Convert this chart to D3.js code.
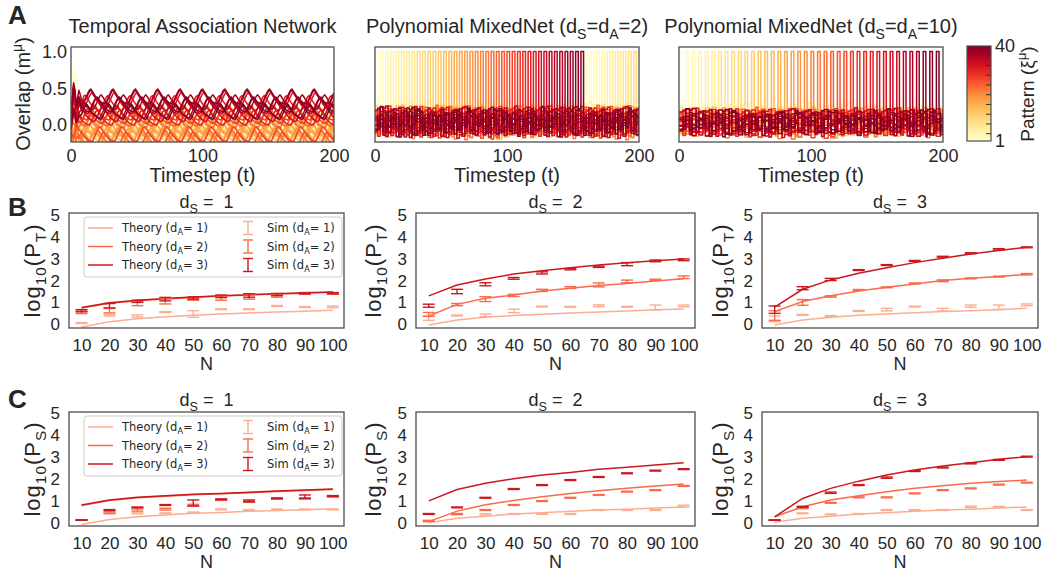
<!DOCTYPE html>
<html>
<head>
<meta charset="utf-8">
<script src="https://cdn.jsdelivr.net/npm/d3@7"></script>
<style>
  body { margin: 0; background: #fff; }
  text { font-family: "Liberation Sans", Arial, Helvetica, sans-serif; fill: #262626; }
  .legend text { font-family: "DejaVu Sans", sans-serif; }
</style>
</head>
<body>
<script>
// ---------- data: panel A (overlap traces) ----------
const timesteps = d3.range(0, 201);
const patternIds = d3.range(1, 41);
const xTicksA = [0, 100, 200];
const yTicksA = [0.0, 0.5, 1.0];

// temporal association network: level each pattern settles to, its oscillation phase,
// one period of the oscillation, and the first few steps
const tanLevel = [0.30, 0.24, 0.18, 0.13, 0.08, 0.04, 0.00, -0.04,
                  -0.07, -0.10, -0.13, -0.16, -0.19, -0.11, -0.06, -0.01,
                  0.03, -0.03, -0.08, -0.14, -0.21, -0.17, 0.06, 0.09,
                  -0.19, -0.12, 0.12, 0.17, 0.22, 0.10, 0.30, 0.34,
                  0.15, 0.37, 0.26, 0.20, 0.31, 0.39, 0.28, 0.18];
const tanPhase = [0, 9, 4, 13, 2, 11, 6, 15, 1, 10, 5, 14, 3, 12, 7, 16, 8, 0, 9, 4,
                  13, 2, 11, 6, 15, 1, 10, 5, 14, 3, 12, 7, 16, 8, 4, 12, 0, 8, 3, 11];
const tanWave = [-1.0, -0.7, -0.3, 0.1, 0.5, 0.85, 1.0, 0.75, 0.45, 0.15, -0.1, -0.3, -0.5, -0.65, -0.8, -0.9, -0.98];
const tanAmp = 0.1;
const tanWarmup = [0.2, 0.9, 1.5, 1.3, 0.7, 0.9, 1.2, 1.1, 0.95, 1.0, 1.05, 1.0];
const tanCue = [1.0, 0.55, 0.62, 0.75, 0.6, 0.45, 0.4, 0.42, 0.36, 0.33, 0.31, 0.30];

// polynomial MixedNet: timesteps at which each pattern is recalled
const mix2Onsets = [[0, 160], [4, 164], [8, 168], [12, 172], [16, 176], [20, 180], [24, 184], [28, 188], [32, 192], [36, 196],
                    [40], [44], [48], [52], [56], [60], [64], [68], [72], [76],
                    [80], [84], [88], [92], [96], [100], [104], [108], [112], [116],
                    [120], [124], [128], [132], [136], [140], [144], [148], [152], [156]];
const mix10Onsets = [[0], [5], [10], [15], [20], [25], [30], [35], [40], [45],
                     [50], [55], [60], [65], [70], [75], [80], [85], [90], [95],
                     [100], [105], [110], [115], [120], [125], [130], [135], [140], [145],
                     [150], [155], [160], [165], [170], [175], [180], [185], [190], [195]];
const recallLength = 2;
// crosstalk overlaps of the patterns that are not recalled
const crosstalk = [0.2, -0.5, 0.8, -0.1, 0.4, -0.9, 0.1, 0.6, -0.3, 0.9,
                   -0.7, 0.0, 0.5, -0.4, 0.3, -0.8, 0.7, -0.2, 0.1, -0.6,
                   0.95, -0.35, 0.25, -1.0, 0.45, 0.05, -0.55, 0.65, -0.15, 0.85,
                   -0.75, 0.35, -0.45, 0.15, 0.55, -0.25, 0.75, -0.85, 0.0, 0.6,
                   -0.65, 0.3, -0.05, 0.9, -0.5, 0.2, -0.9, 0.5, -0.3, 0.7,
                   -0.1, 0.4, -0.7, 0.8, -0.4, 0.1, -0.95, 0.65, -0.2, 0.3, -0.6];
const crosstalkBias = [0.12, 0.10, 0.08, 0.05, 0.10, 0.02, 0.06, -0.02, 0.04, 0.00,
                       0.03, -0.03, 0.05, 0.01, -0.05, 0.02, 0.00, -0.04, 0.03, -0.02,
                       0.01, -0.06, 0.04, -0.01, 0.02, -0.05, 0.00, 0.03, -0.03, 0.01,
                       -0.02, 0.02, -0.04, 0.00, 0.03, -0.02, 0.01, -0.03, 0.02, 0.00];

const cbTicks = [1, 40];
const cbMinorTicks = [4, 8, 12, 16, 20, 24, 28, 32, 36];

// ---------- data: panels B and C (capacity vs N) ----------
const nValues = [10, 20, 30, 40, 50, 60, 70, 80, 90, 100];
const dAValues = [1, 2, 3];
const dSValues = [1, 2, 3];
const yTicksLower = [0, 1, 2, 3, 4, 5];

// log10(P_T): [dS][dA][N]
const ptTheory = [
  [[-0.12, 0.12, 0.25, 0.34, 0.41, 0.47, 0.52, 0.56, 0.60, 0.64],
   [0.74, 0.96, 1.08, 1.16, 1.23, 1.29, 1.34, 1.38, 1.42, 1.46],
   [0.77, 0.98, 1.10, 1.18, 1.25, 1.30, 1.35, 1.40, 1.44, 1.48]],
  [[-0.03, 0.20, 0.32, 0.40, 0.46, 0.52, 0.56, 0.61, 0.66, 0.70],
   [0.38, 0.91, 1.19, 1.34, 1.52, 1.65, 1.77, 1.87, 1.98, 2.08],
   [1.30, 1.80, 2.07, 2.30, 2.45, 2.59, 2.71, 2.82, 2.91, 2.99]],
  [[-0.03, 0.20, 0.32, 0.41, 0.47, 0.53, 0.58, 0.62, 0.67, 0.73],
   [0.58, 1.04, 1.30, 1.52, 1.69, 1.84, 2.00, 2.10, 2.18, 2.29],
   [0.78, 1.60, 2.03, 2.33, 2.59, 2.82, 3.02, 3.22, 3.37, 3.52]]
];
const ptSimMean = [
  [[0.06, 0.41, 0.38, 0.56, 0.47, 0.69, 0.69, 0.84, 0.79, 0.80],
   [0.55, 0.62, 0.95, 1.05, 1.15, 1.20, 1.25, 1.30, 1.40, 1.40],
   [0.62, 0.85, 1.05, 1.15, 1.20, 1.28, 1.32, 1.36, 1.42, 1.42]],
  [[0.28, 0.40, 0.41, 0.61, 0.81, 0.80, 0.85, 0.80, 0.77, 0.84],
   [0.45, 0.90, 1.15, 1.32, 1.55, 1.68, 1.80, 1.96, 2.03, 2.15],
   [0.85, 1.50, 1.83, 2.10, 2.35, 2.52, 2.63, 2.75, 2.90, 2.95]],
  [[0.25, 0.43, 0.38, 0.61, 0.67, 0.81, 0.67, 0.83, 0.78, 0.89],
   [0.40, 1.00, 1.27, 1.57, 1.69, 1.87, 1.99, 2.10, 2.18, 2.29],
   [0.67, 1.65, 2.05, 2.48, 2.71, 2.90, 3.09, 3.25, 3.43, 3.52]]
];
const ptSimErr = [
  [[0.02, 0.03, 0.05, 0.02, 0.15, 0.02, 0.02, 0.02, 0.02, 0.04],
   [0.06, 0.10, 0.10, 0.12, 0.05, 0.10, 0.10, 0.06, 0.03, 0.03],
   [0.05, 0.10, 0.05, 0.08, 0.05, 0.06, 0.08, 0.05, 0.03, 0.03]],
  [[0.10, 0.02, 0.06, 0.08, 0.02, 0.02, 0.04, 0.02, 0.11, 0.04],
   [0.09, 0.05, 0.11, 0.05, 0.05, 0.04, 0.09, 0.06, 0.03, 0.06],
   [0.07, 0.10, 0.07, 0.04, 0.05, 0.03, 0.03, 0.07, 0.04, 0.04]],
  [[0.13, 0.02, 0.02, 0.02, 0.06, 0.02, 0.06, 0.05, 0.10, 0.04],
   [0.22, 0.13, 0.03, 0.02, 0.02, 0.02, 0.04, 0.02, 0.02, 0.03],
   [0.17, 0.07, 0.05, 0.02, 0.02, 0.02, 0.02, 0.02, 0.03, 0.02]]
];

// log10(P_S): [dS][dA][N]
const psTheory = [
  [[-0.08, 0.15, 0.27, 0.35, 0.43, 0.47, 0.52, 0.56, 0.59, 0.64],
   [0.79, 1.02, 1.14, 1.21, 1.28, 1.32, 1.37, 1.43, 1.47, 1.52],
   [0.81, 1.04, 1.16, 1.23, 1.30, 1.34, 1.39, 1.45, 1.49, 1.54]],
  [[0.00, 0.20, 0.30, 0.40, 0.46, 0.52, 0.58, 0.62, 0.67, 0.72],
   [0.05, 0.53, 0.82, 1.02, 1.19, 1.34, 1.46, 1.57, 1.68, 1.77],
   [1.00, 1.52, 1.80, 2.01, 2.18, 2.30, 2.44, 2.53, 2.64, 2.74]],
  [[0.02, 0.20, 0.30, 0.40, 0.46, 0.52, 0.58, 0.62, 0.67, 0.72],
   [0.27, 0.73, 1.04, 1.23, 1.42, 1.57, 1.69, 1.80, 1.88, 1.95],
   [0.27, 1.11, 1.57, 1.90, 2.18, 2.41, 2.59, 2.74, 2.90, 3.02]]
];
const psSimMean = [
  [[0.12, 0.43, 0.43, 0.43, 0.47, 0.61, 0.58, 0.61, 0.61, 0.61],
   [0.12, 0.46, 0.58, 0.62, 0.81, 1.04, 0.96, 1.11, 1.11, 1.19],
   [0.12, 0.58, 0.70, 0.81, 0.90, 1.07, 1.00, 1.11, 1.19, 1.22]],
  [[0.05, 0.38, 0.38, 0.40, 0.40, 0.40, 0.58, 0.58, 0.58, 0.76],
   [0.09, 0.40, 0.58, 0.81, 0.99, 1.14, 1.27, 1.42, 1.49, 1.68],
   [0.40, 0.70, 1.14, 1.54, 1.72, 1.95, 2.09, 2.26, 2.38, 2.45]],
  [[0.12, 0.43, 0.38, 0.40, 0.58, 0.58, 0.58, 0.73, 0.73, 0.58],
   [0.12, 0.66, 0.91, 1.16, 1.16, 1.34, 1.49, 1.57, 1.74, 1.83],
   [0.12, 0.73, 1.37, 1.72, 2.06, 2.36, 2.52, 2.71, 2.87, 3.02]]
];
const psSimErr = [
  [[0.01, 0.02, 0.02, 0.02, 0.02, 0.02, 0.02, 0.02, 0.02, 0.02],
   [0.01, 0.04, 0.05, 0.04, 0.03, 0.02, 0.03, 0.02, 0.03, 0.02],
   [0.01, 0.02, 0.02, 0.02, 0.14, 0.02, 0.04, 0.02, 0.08, 0.02]],
  [[0.02, 0.02, 0.03, 0.02, 0.02, 0.02, 0.02, 0.02, 0.02, 0.04],
   [0.02, 0.02, 0.02, 0.02, 0.02, 0.02, 0.02, 0.02, 0.02, 0.02],
   [0.02, 0.02, 0.02, 0.02, 0.02, 0.02, 0.02, 0.02, 0.02, 0.02]],
  [[0.01, 0.02, 0.02, 0.02, 0.02, 0.02, 0.02, 0.03, 0.02, 0.02],
   [0.01, 0.02, 0.02, 0.02, 0.02, 0.02, 0.02, 0.02, 0.02, 0.02],
   [0.01, 0.02, 0.03, 0.02, 0.03, 0.02, 0.02, 0.02, 0.02, 0.02]]
];

const dAColors = ["#fcae91", "#fb6a4a", "#cb181d"];

// ---------- helpers ----------
const svg = d3.select("body").append("svg").attr("width", 1044).attr("height", 573);
const defs = svg.append("defs");
const frameColor = "#4d4d4d";

// text made of plain, subscript and superscript pieces
function rich(sel, parts, size) {
  let shift = 0;
  parts.forEach(([str, kind]) => {
    const target = kind === "sub" ? 0.28 * size : kind === "sup" ? -0.4 * size : 0;
    sel.append("tspan")
      .attr("dy", target - shift)
      .attr("font-size", kind ? size * 0.7 : size)
      .text(str);
    shift = target;
  });
  return sel;
}

function frame(x0, y0, x1, y1) {
  svg.append("rect")
    .attr("x", x0).attr("y", y0)
    .attr("width", x1 - x0).attr("height", y1 - y0)
    .attr("fill", "none")
    .attr("stroke", frameColor)
    .attr("stroke-width", 1.3);
}

function styleAxis(g, size) {
  g.attr("font-size", size).attr("color", "#262626");
  g.select(".domain").remove();
}

// ---------- panel A ----------
const topY0 = 47, topY1 = 142;
const patternColor = d3.scaleSequential(d3.interpolateYlOrRd).domain([1, 40]);

function tanSeries(i) {
  return timesteps.map(t => {
    if (i === 0 && t < tanCue.length) return tanCue[t];
    const w = t < tanWarmup.length ? tanWarmup[t] : 1;
    return tanLevel[i] * w + tanAmp * tanWave[(t + tanPhase[i]) % tanWave.length];
  });
}

function mixedSeries(onsets, hold, center, spread) {
  return i => timesteps.map(t => {
    if (onsets[i].some(o => t >= o && t < o + recallLength)) return 1;
    const k = (Math.floor(t / hold) * 7 + i * 13) % crosstalk.length;
    return center + crosstalkBias[i] + spread * crosstalk[k];
  });
}

const topPanels = [
  {x0: 71, x1: 334, series: tanSeries, curve: d3.curveLinear,
   title: [["Temporal Association Network"]]},
  {x0: 375, x1: 639, series: mixedSeries(mix2Onsets, 2, 0.05, 0.19), curve: d3.curveStepAfter,
   title: [["Polynomial MixedNet (d"], ["S", "sub"], ["=d"], ["A", "sub"], ["=2)"]]},
  {x0: 679, x1: 943, series: mixedSeries(mix10Onsets, 2.5, 0.04, 0.17), curve: d3.curveStepAfter,
   title: [["Polynomial MixedNet (d"], ["S", "sub"], ["=d"], ["A", "sub"], ["=10)"]]}
];

topPanels.forEach((p, k) => {
  const x = d3.scaleLinear().domain([0, 200]).range([p.x0, p.x1]);
  const y = d3.scaleLinear().domain([-0.23, 1.06]).range([topY1, topY0]);
  const clipId = "clipA" + k;
  defs.append("clipPath").attr("id", clipId)
    .append("rect").attr("x", p.x0).attr("y", topY0)
    .attr("width", p.x1 - p.x0).attr("height", topY1 - topY0);

  const line = d3.line()
    .x((v, t) => x(timesteps[t]))
    .y(v => y(v))
    .curve(p.curve);

  const g = svg.append("g").attr("clip-path", `url(#${clipId})`);
  patternIds.forEach((mu, i) => {
    g.append("path")
      .attr("d", line(p.series(i)))
      .attr("fill", "none")
      .attr("stroke", patternColor(mu))
      .attr("stroke-width", 1.5)
      .attr("stroke-linejoin", "round");
  });
  frame(p.x0, topY0, p.x1, topY1);

  svg.append("g")
    .attr("transform", `translate(0,${topY1})`)
    .call(d3.axisBottom(x).tickValues(xTicksA).tickSize(0).tickPadding(7))
    .call(g => styleAxis(g, 18));

  if (k === 0) {
    svg.append("g")
      .attr("transform", `translate(${p.x0},0)`)
      .call(d3.axisLeft(y).tickValues(yTicksA).tickFormat(d3.format(".1f")).tickSize(0).tickPadding(4))
      .call(g => styleAxis(g, 18));
    rich(svg.append("text")
      .attr("text-anchor", "middle")
      .attr("transform", `translate(30,94) rotate(-90)`),
      [["Overlap (m"], ["μ", "sup"], [")"]], 20);
  }

  rich(svg.append("text")
    .attr("x", (p.x0 + p.x1) / 2).attr("y", 33)
    .attr("text-anchor", "middle"), p.title, 20);

  svg.append("text")
    .attr("x", (p.x0 + p.x1) / 2).attr("y", 182)
    .attr("text-anchor", "middle")
    .attr("font-size", 20)
    .text("Timestep (t)");
});

// colorbar
const cb = {x0: 967, x1: 991, y0: 46, y1: 141};
const cbScale = d3.scaleLinear().domain([1, 40]).range([cb.y1, cb.y0]);
const grad = defs.append("linearGradient").attr("id", "cbGrad")
  .attr("x1", 0).attr("y1", 1).attr("x2", 0).attr("y2", 0);
d3.range(0, 1.0001, 0.1).forEach(f => {
  grad.append("stop").attr("offset", f).attr("stop-color", d3.interpolateYlOrRd(f));
});
svg.append("rect")
  .attr("x", cb.x0).attr("y", cb.y0)
  .attr("width", cb.x1 - cb.x0).attr("height", cb.y1 - cb.y0)
  .attr("fill", "url(#cbGrad)")
  .attr("stroke", frameColor).attr("stroke-width", 1.2);
svg.append("g").selectAll("line").data(cbMinorTicks).join("line")
  .attr("x1", cb.x1 - 5).attr("x2", cb.x1)
  .attr("y1", d => cbScale(d)).attr("y2", d => cbScale(d))
  .attr("stroke", "#333").attr("stroke-width", 1);
svg.append("g")
  .attr("transform", `translate(${cb.x1},0)`)
  .call(d3.axisRight(cbScale).tickValues(cbTicks).tickSize(0).tickPadding(4))
  .call(g => styleAxis(g, 18));
rich(svg.append("text")
  .attr("text-anchor", "middle")
  .attr("transform", `translate(1034,94) rotate(-90)`),
  [["Pattern (ξ"], ["μ", "sup"], [")"]], 19);

// ---------- panels B and C ----------
const lowerCols = [[69, 344], [416, 695], [762, 1038]];
const lowerYLabelX = [40, 381, 728];
const lowerRows = [
  {top: 213, bottom: 328, domain: [-0.17, 5.09], q: "T", theory: ptTheory, mean: ptSimMean, err: ptSimErr, titleY: 208},
  {top: 412, bottom: 526, domain: [-0.15, 5.06], q: "S", theory: psTheory, mean: psSimMean, err: psSimErr, titleY: 406}
];

lowerRows.forEach(row => {
  dSValues.forEach((dS, c) => {
    const [x0, x1] = lowerCols[c];
    const x = d3.scaleLinear().domain([5.5, 104]).range([x0, x1]);
    const y = d3.scaleLinear().domain(row.domain).range([row.bottom, row.top]);

    // theory curves
    dAValues.forEach((dA, a) => {
      svg.append("path")
        .datum(row.theory[c][a])
        .attr("d", d3.line().x((v, i) => x(nValues[i])).y(v => y(v)))
        .attr("fill", "none")
        .attr("stroke", dAColors[a])
        .attr("stroke-width", 1.5);
    });

    // simulations with error bars
    dAValues.forEach((dA, a) => {
      const g = svg.append("g").attr("stroke", dAColors[a]).attr("stroke-width", 1.4);
      nValues.forEach((n, i) => {
        const m = row.mean[c][a][i], e = row.err[c][a][i];
        const cx = x(n);
        g.append("line").attr("x1", cx).attr("x2", cx).attr("y1", y(m - e)).attr("y2", y(m + e));
        [m - e, m + e].forEach(v => {
          g.append("line").attr("x1", cx - 6).attr("x2", cx + 6).attr("y1", y(v)).attr("y2", y(v));
        });
      });
    });

    frame(x0, row.top, x1, row.bottom);

    svg.append("g")
      .attr("transform", `translate(0,${row.bottom})`)
      .call(d3.axisBottom(x).tickValues(nValues).tickSize(0).tickPadding(11))
      .call(g => styleAxis(g, 17));
    svg.append("g")
      .attr("transform", `translate(${x0},0)`)
      .call(d3.axisLeft(y).tickValues(yTicksLower).tickFormat(d3.format("d")).tickSize(0).tickPadding(9))
      .call(g => styleAxis(g, 17));

    svg.append("text")
      .attr("x", (x0 + x1) / 2).attr("y", row.bottom + 42)
      .attr("text-anchor", "middle")
      .attr("font-size", 18)
      .text("N");

    rich(svg.append("text")
      .attr("text-anchor", "middle")
      .attr("letter-spacing", 1)
      .attr("transform", `translate(${lowerYLabelX[c]},${(row.top + row.bottom) / 2}) rotate(-90)`),
      [["log"], ["10", "sub"], ["(P"], [row.q, "sub"], [")"]], 22);

    rich(svg.append("text")
      .attr("x", (x0 + x1) / 2).attr("y", row.titleY)
      .attr("text-anchor", "middle")
      .style("white-space", "pre"),
      [["d"], ["S", "sub"], [" =  " + dS]], 18);

    // legend in the first column
    if (c === 0) {
      const lg = svg.append("g").attr("class", "legend")
        .attr("transform", `translate(${x0 + 15},${row.top + 4})`);
      lg.append("rect")
        .attr("width", x1 - x0 - 17).attr("height", 60)
        .attr("rx", 3)
        .attr("fill", "#fff").attr("fill-opacity", 0.8)
        .attr("stroke", "#cccccc").attr("stroke-width", 1);
      dAValues.forEach((dA, a) => {
        const ry = 11 + a * 18.5;
        lg.append("line")
          .attr("x1", 4).attr("x2", 29).attr("y1", ry).attr("y2", ry)
          .attr("stroke", dAColors[a]).attr("stroke-width", 1.5);
        rich(lg.append("text").attr("x", 38).attr("y", ry + 4).style("white-space", "pre"),
          [["Theory (d"], ["A", "sub"], ["= " + dA + ")"]], 11.5);
        const eg = lg.append("g").attr("stroke", dAColors[a]).attr("stroke-width", 1.4);
        eg.append("line").attr("x1", 164).attr("x2", 164).attr("y1", ry - 6.5).attr("y2", ry + 6.5);
        eg.append("line").attr("x1", 159).attr("x2", 169).attr("y1", ry - 6.5).attr("y2", ry - 6.5);
        eg.append("line").attr("x1", 159).attr("x2", 169).attr("y1", ry + 6.5).attr("y2", ry + 6.5);
        rich(lg.append("text").attr("x", 183).attr("y", ry + 4).style("white-space", "pre"),
          [["Sim (d"], ["A", "sub"], ["= " + dA + ")"]], 11.5);
      });
    }
  });
});

// panel letters
[["A", 24], ["B", 216], ["C", 408]].forEach(([s, by]) => {
  svg.append("text")
    .attr("x", 8).attr("y", by)
    .attr("font-size", 26).attr("font-weight", "bold")
    .attr("fill", "#000")
    .text(s);
});
</script>
</body>
</html>
